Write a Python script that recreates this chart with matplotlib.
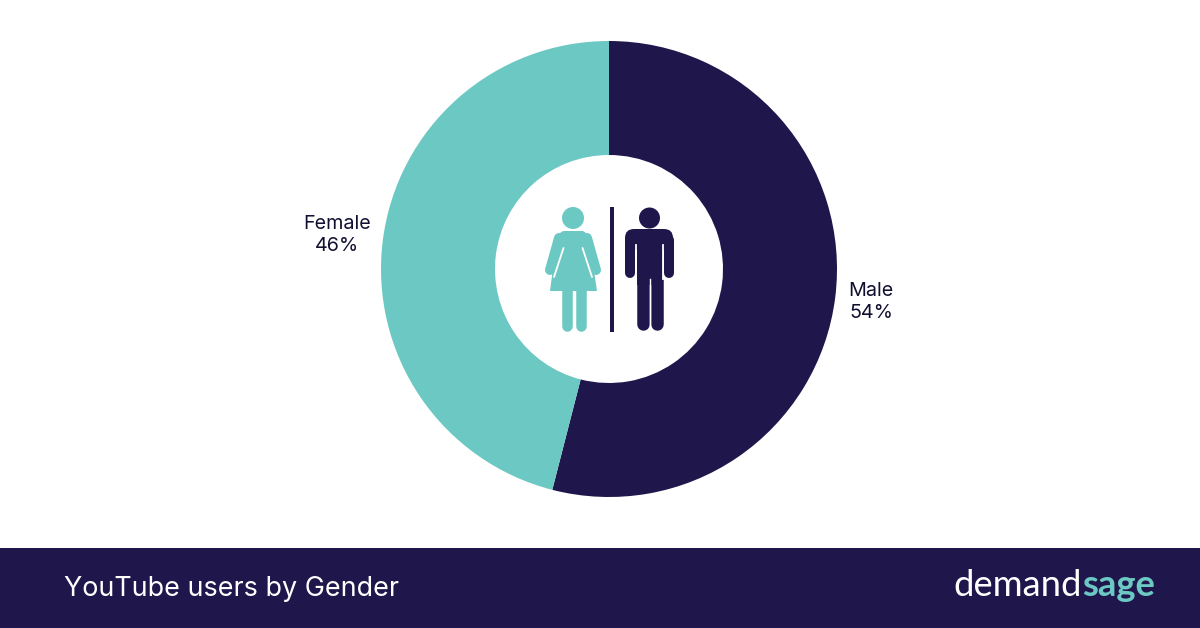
"""YouTube users by gender: donut chart with pictogram and footer band."""
import matplotlib
matplotlib.use("Agg")
import matplotlib.pyplot as plt
from matplotlib.patches import Circle, Polygon, Rectangle, FancyBboxPatch

categories = ["Male", "Female"]
shares = [54, 46]
title = "YouTube users by Gender"

NAVY = "#1F174C"
TEAL = "#6CC8C3"
W, H = 1200, 628
TEXT_FONT = ["Inter", "Liberation Sans", "DejaVu Sans"]

plt.rcParams["font.family"] = TEXT_FONT

fig = plt.figure(figsize=(W / 100, H / 100), dpi=100, facecolor="white")
ax = fig.add_axes([0, 0, 1, 1])


def Y(py):
    # reference pixel rows run downward
    return H - py


ax.pie(shares, colors=[NAVY, TEAL], startangle=90, counterclock=False,
       center=(609, Y(269)), radius=228, frame=True,
       wedgeprops={"width": 114, "linewidth": 0})
ax.set_xlim(0, W)
ax.set_ylim(0, H)
ax.set_aspect("auto")
ax.set_axis_off()

# slice labels
label_pos = {"Male": (871, 302), "Female": (337, 235)}
for name, val in zip(categories, shares):
    x, y = label_pos[name]
    ax.text(x, Y(y), f"{name}\n{val}%", ha="center", va="center",
            fontsize=14.2, color="#111030", linespacing=1.32)


def limb(x0, y0, x1, y1, color, w):
    ax.plot([x0, x1], [Y(y0), Y(y1)], color=color, lw=w * 0.72,
            solid_capstyle="round", zorder=5)


# woman
ax.add_patch(Circle((573, Y(218)), 11, fc=TEAL, ec="none", zorder=5))
ax.add_patch(Polygon([(px, Y(py)) for px, py in [
    (563, 231), (583, 231), (589, 238), (597, 291), (550, 291), (557, 238)]],
    fc=TEAL, ec="none", zorder=5))
ax.add_patch(FancyBboxPatch((558, Y(247)), 30, 16, boxstyle="round,pad=0,rounding_size=8",
                            fc=TEAL, ec="none", zorder=5))
limb(559, 238, 550, 270, TEAL, 10)
limb(587, 238, 596, 270, TEAL, 10)
limb(566.5, 285, 566.5, 326, TEAL, 10.5)
limb(580.5, 285, 580.5, 326, TEAL, 10.5)
# slits between the arms and the dress
limb(563.5, 248, 554, 277, "white", 1.8)
limb(582.5, 248, 592, 277, "white", 1.8)

# divider
ax.add_patch(Rectangle((609.5, Y(332)), 4.5, 125, fc=NAVY, ec="none", zorder=5))

# man
ax.add_patch(Circle((649.5, Y(218)), 10.5, fc=NAVY, ec="none", zorder=5))
ax.add_patch(FancyBboxPatch((625, Y(250)), 48, 21, boxstyle="round,pad=0,rounding_size=9",
                            fc=NAVY, ec="none", zorder=5))
ax.add_patch(Rectangle((637, Y(285)), 25.5, 50, fc=NAVY, ec="none", zorder=5))
limb(630, 240, 630, 273, NAVY, 10)
limb(668.5, 240, 668.5, 273, NAVY, 10)
limb(642.5, 280, 642.5, 324, NAVY, 12.5)
limb(657, 280, 657, 324, NAVY, 12.5)
ax.plot([636, 636], [Y(245), Y(279)], color="white", lw=1.3, zorder=5)
ax.plot([663.3, 663.3], [Y(245), Y(279)], color="white", lw=1.3, zorder=5)
ax.plot([649.8, 649.8], [Y(279), Y(332)], color="white", lw=1.0, zorder=6)

# footer band
ax.add_patch(Rectangle((0, 0), W, H - 548, fc=NAVY, ec="none", zorder=6))
ax.text(64, Y(589), title, ha="left", va="center", fontsize=19.4,
        color="white", zorder=7)

# wordmark
t1 = ax.text(953, Y(596), "demand", ha="left", va="baseline", fontsize=26.2,
             family=["Lato", "DejaVu Sans"], color="white", zorder=7)
fig.canvas.draw()
bb = t1.get_window_extent()
ax.text(bb.x1 + 0.5, Y(596), "sage", ha="left", va="baseline", fontsize=26.2,
        family=["Lato", "DejaVu Sans"], weight="bold", color=TEAL, zorder=7)

fig.savefig("out.png", dpi=100, facecolor="white")
